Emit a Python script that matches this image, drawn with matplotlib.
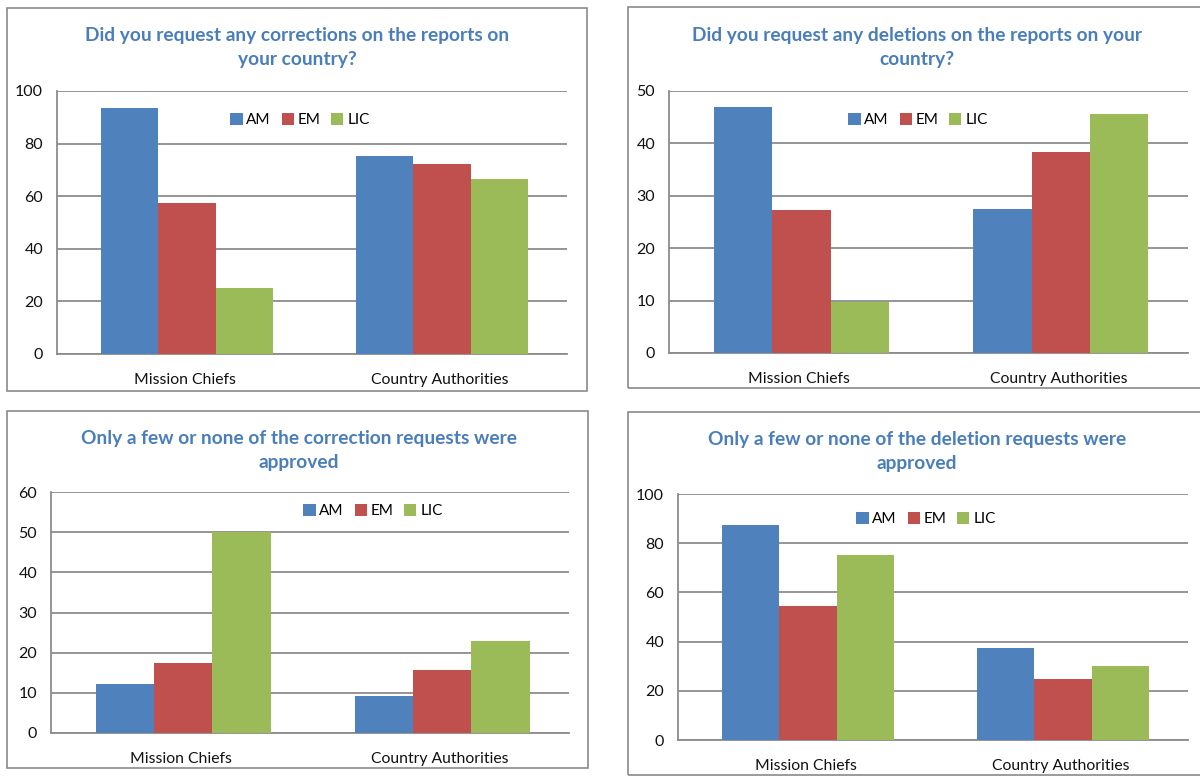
import matplotlib
matplotlib.use("Agg")
import matplotlib.pyplot as plt
from matplotlib.patches import Rectangle
import numpy as np

plt.rcParams['font.family'] = ['Lato', 'DejaVu Sans']

categories = ["Mission Chiefs", "Country Authorities"]
series_names = ["AM", "EM", "LIC"]
series_colors = ["#4f81bd", "#c0504d", "#9bbb59"]

# Share of respondents (%) per group: [Mission Chiefs, Country Authorities]
corrections_am = [93.5, 75.4]
corrections_em = [57.3, 72.4]
corrections_lic = [25.0, 66.7]

deletions_am = [47.0, 27.5]
deletions_em = [27.2, 38.4]
deletions_lic = [9.8, 45.7]

corr_approved_am = [12.3, 9.2]
corr_approved_em = [17.4, 15.6]
corr_approved_lic = [50.0, 22.9]

del_approved_am = [87.5, 37.5]
del_approved_em = [54.5, 24.8]
del_approved_lic = [75.2, 30.0]

titles = [
    "Did you request any corrections on the reports on\nyour country?",
    "Did you request any deletions on the reports on your\ncountry?",
    "Only a few or none of the correction requests were\napproved",
    "Only a few or none of the deletion requests were\napproved",
]
y_max = [100, 50, 60, 100]
y_step = [20, 10, 10, 20]

panel_data = [
    [corrections_am, corrections_em, corrections_lic],
    [deletions_am, deletions_em, deletions_lic],
    [corr_approved_am, corr_approved_em, corr_approved_lic],
    [del_approved_am, del_approved_em, del_approved_lic],
]

W, H = 1200, 776
fig = plt.figure(figsize=(W / 100, H / 100), dpi=100)

# layout in pixels: panel frame (l, t, r, b), plot area (l, t, r, b), legend centre (x, y), title centre
frames = [(7, 8, 587, 391), (628, 7, 1215, 388), (7, 411, 588, 768), (628, 412, 1215, 775)]
plots = [(57, 91, 567, 354), (669, 91, 1188, 353), (51, 492, 569, 733), (678, 494, 1188, 740)]
legend_pos = [(300, 120), (918, 120), (373, 511), (926, 519)]
title_center = [(297, 47), (917, 47), (299, 450), (917, 451)]

grid_color = "#8c8c8c"
title_color = "#4a7ebb"

for k in range(4):
    fl, ft, fr, fb = frames[k]
    fig.patches.append(Rectangle((fl / W, 1 - fb / H), (fr - fl) / W, (fb - ft) / H,
                                 transform=fig.transFigure, fill=False,
                                 edgecolor="#8a8a8a", linewidth=1.2, zorder=0))

    pl, pt, pr, pb = plots[k]
    ax = fig.add_axes([pl / W, 1 - pb / H, (pr - pl) / W, (pb - pt) / H])
    x = np.arange(len(categories))
    bw = 0.225
    for i, (vals, name, col) in enumerate(zip(panel_data[k], series_names, series_colors)):
        ax.bar(x + (i - 1) * bw + 0.01, vals, width=bw, color=col, label=name,
               edgecolor="none", zorder=3)
    ax.set_xlim(-0.5, 1.5)
    ax.set_ylim(0, y_max[k])
    ax.set_yticks(np.arange(0, y_max[k] + 1, y_step[k]))
    ax.yaxis.grid(True, color=grid_color, linewidth=1.3, zorder=0)
    ax.set_xticks(x)
    ax.set_xticklabels(categories)
    ax.tick_params(axis="x", length=0, pad=14, labelsize=11.3, labelcolor="#111111")
    ax.tick_params(axis="y", length=0, pad=10, labelsize=11.5, labelcolor="#111111")
    for side in ["top", "right"]:
        ax.spines[side].set_visible(False)
    for side in ["left", "bottom"]:
        ax.spines[side].set_color(grid_color)
        ax.spines[side].set_linewidth(1.3)

    lx, ly = legend_pos[k]
    ax.legend(loc="center", bbox_to_anchor=(lx / W, 1 - ly / H),
              bbox_transform=fig.transFigure, ncol=3, frameon=False,
              fontsize=11, handlelength=0.8, handleheight=0.8,
              handletextpad=0.25, columnspacing=0.7, borderpad=0)

    tx, ty = title_center[k]
    fig.text(tx / W, 1 - ty / H, titles[k], ha="center", va="center",
             fontsize=13.8, fontweight="bold", color=title_color, linespacing=1.5)

fig.savefig("out.png", dpi=100)
